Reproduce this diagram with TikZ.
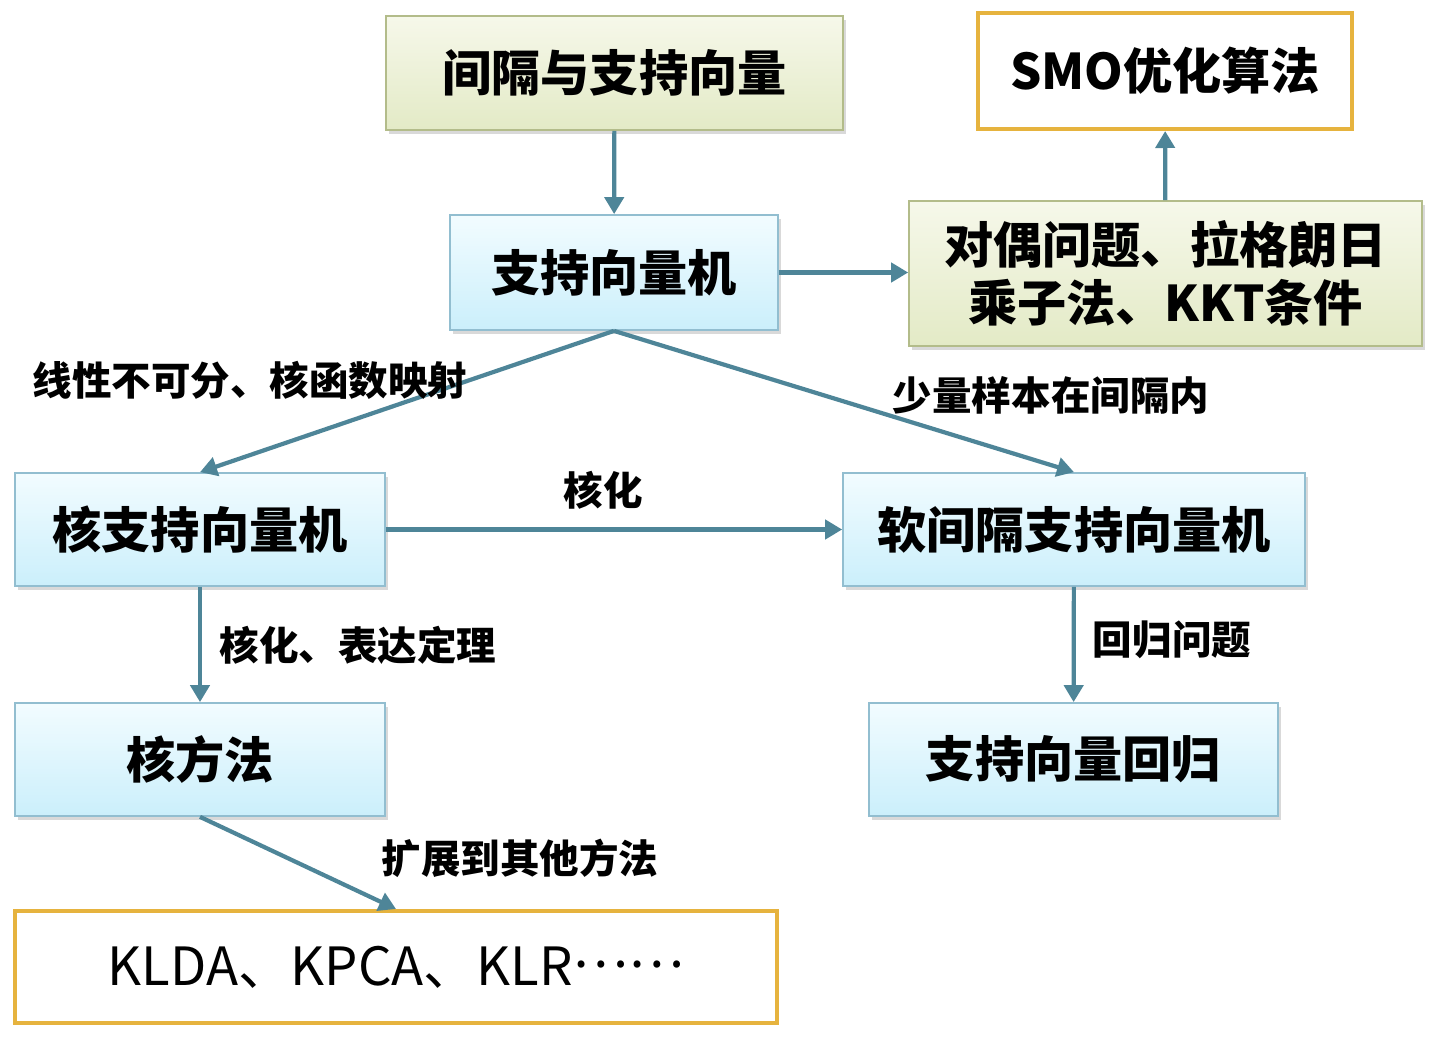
\documentclass[tikz,border=0pt]{standalone}
\usepackage{fontspec}
\usepackage{tikz}
\usetikzlibrary{arrows.meta,shadows}
\newfontfamily\cjk{Noto Sans CJK SC}
\definecolor{arrow_blue}{HTML}{4E8598}
\definecolor{box_orange}{HTML}{E6B33E}
\definecolor{blue_top}{HTML}{F2FCFF}
\definecolor{blue_bottom}{HTML}{CBEFFB}
\definecolor{blue_line}{HTML}{92BED0}
\definecolor{green_top}{HTML}{F6F8EA}
\definecolor{green_bottom}{HTML}{E3EAC6}
\definecolor{green_line}{HTML}{B3BC8A}

\begin{document}
\begin{tikzpicture}[x=0.02cm,y=-0.02cm,>={Triangle[length=0.34cm,width=0.38cm]},
    box_text/.style={font=\cjk\bfseries\fontsize{28}{33}\selectfont,inner sep=0pt,align=center},
    blue_box/.style={box_text,draw=blue_line,line width=1pt,top color=blue_top,bottom color=blue_bottom,
      drop shadow={shadow xshift=1.5pt,shadow yshift=-2pt,opacity=0.3}},
    green_box/.style={box_text,draw=green_line,line width=1pt,top color=green_top,bottom color=green_bottom,
      drop shadow={shadow xshift=1.5pt,shadow yshift=-2pt,opacity=0.3}},
    orange_box/.style={box_text,draw=box_orange,line width=2.3pt,fill=white},
    flow/.style={->,line width=2.4pt,arrow_blue},
    lbl/.style={font=\cjk\bfseries\fontsize{22.5}{26}\selectfont,inner sep=0pt}]
  \useasboundingbox (0,0) rectangle (1440,1037);
  % boxes
  \node[green_box,minimum width=9.14cm,minimum height=2.28cm] (gap) at (614.5,73) {间隔与支持向量};
  \node[orange_box,minimum width=7.48cm,minimum height=2.32cm] (smo) at (1165,71) {SMO优化算法};
  \node[blue_box,minimum width=6.56cm,minimum height=2.3cm] (svm) at (614,272.5) {支持向量机};
  \node[green_box,minimum width=10.26cm,minimum height=2.9cm] (dual) at (1165.5,273.5) {对偶问题、拉格朗日\\乘子法、KKT条件};
  \node[blue_box,minimum width=7.4cm,minimum height=2.26cm] (ksvm) at (200,529.5) {核支持向量机};
  \node[blue_box,minimum width=9.24cm,minimum height=2.26cm] (soft) at (1074,529.5) {软间隔支持向量机};
  \node[blue_box,minimum width=7.4cm,minimum height=2.26cm] (kmethod) at (200,759.5) {核方法};
  \node[blue_box,minimum width=8.18cm,minimum height=2.26cm] (svr) at (1073.5,759.5) {支持向量回归};
  \node[orange_box,font=\cjk\fontsize{30}{34}\selectfont,minimum width=15.24cm,minimum height=2.24cm] (klda) at (396,967)
    {KLDA、KPCA、KLR\raisebox{0.34em}{……}};
  % arrows
  \draw[flow] (gap) -- (svm);
  \draw[flow] (svm.east) -- (svm.east -| dual.west);
  \draw[flow] (dual) -- (smo);
  \draw[flow] (svm.south) -- (ksvm.north);
  \draw[flow] (svm.south) -- (soft.north);
  \draw[flow] (ksvm.east) -- (soft.west);
  \draw[flow] (ksvm) -- (kmethod);
  \draw[flow] (soft) -- (svr);
  \draw[flow] (kmethod.south) -- (klda.north);
  % labels
  \node[lbl] (l_kernel) at (250,380) {线性不可分、核函数映射};
  \node[lbl] (l_soft) at (1051,395) {少量样本在间隔内};
  \node[lbl] (l_kh) at (603,490) {核化};
  \node[lbl] (l_rep) at (358,645) {核化、表达定理};
  \node[lbl] (l_reg) at (1172,640) {回归问题};
  \node[lbl] (l_ext) at (520,858) {扩展到其他方法};
\end{tikzpicture}
\end{document}
